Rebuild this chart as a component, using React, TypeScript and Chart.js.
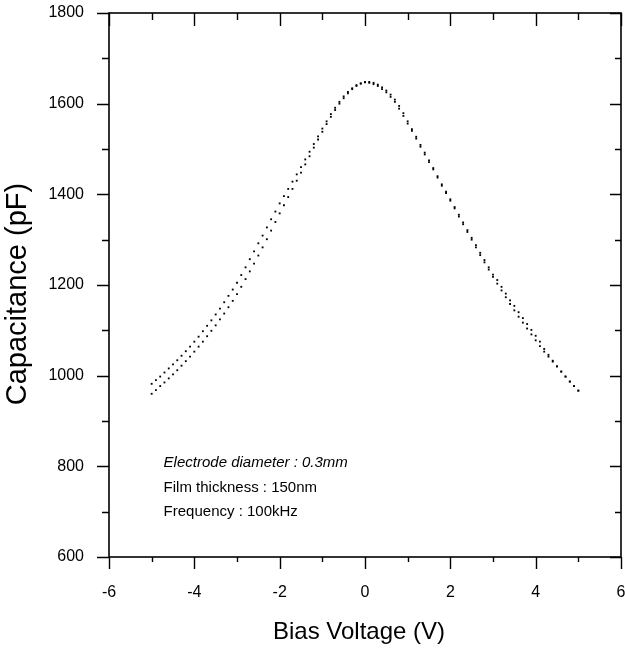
import React, { useEffect, useRef } from "react";
import { Chart, registerables } from "chart.js";

Chart.register(...registerables);

const voltage = [
  -5.0, -4.9, -4.8, -4.7, -4.6, -4.5, -4.4, -4.3, -4.2, -4.1,
  -4.0, -3.9, -3.8, -3.7, -3.6, -3.5, -3.4, -3.3, -3.2, -3.1,
  -3.0, -2.9, -2.8, -2.7, -2.6, -2.5, -2.4, -2.3, -2.2, -2.1,
  -2.0, -1.9, -1.8, -1.7, -1.6, -1.5, -1.4, -1.3, -1.2, -1.1,
  -1.0, -0.9, -0.8, -0.7, -0.6, -0.5, -0.4, -0.3, -0.2, -0.1,
  0.0, 0.1, 0.2, 0.3, 0.4, 0.5, 0.6, 0.7, 0.8, 0.9,
  1.0, 1.1, 1.2, 1.3, 1.4, 1.5, 1.6, 1.7, 1.8, 1.9,
  2.0, 2.1, 2.2, 2.3, 2.4, 2.5, 2.6, 2.7, 2.8, 2.9,
  3.0, 3.1, 3.2, 3.3, 3.4, 3.5, 3.6, 3.7, 3.8, 3.9,
  4.0, 4.1, 4.2, 4.3, 4.4, 4.5, 4.6, 4.7, 4.8, 4.9,
  5.0,
];

const sweepA = [
  982, 990, 998, 1007, 1016, 1025, 1034, 1044, 1054, 1064,
  1075, 1086, 1098, 1110, 1122, 1135, 1148, 1162, 1176, 1190,
  1205, 1222, 1239, 1257, 1274, 1292, 1309, 1327, 1345, 1362,
  1380, 1396, 1412, 1428, 1444, 1460, 1477, 1494, 1511, 1528,
  1545, 1561, 1577, 1591, 1604, 1616, 1626, 1634, 1641, 1645,
  1648, 1646, 1643, 1639, 1632, 1625, 1615, 1604, 1589, 1573,
  1556, 1540, 1523, 1505, 1488, 1471, 1455, 1437, 1419, 1403,
  1386, 1369, 1351, 1334, 1317, 1300, 1283, 1266, 1250, 1234,
  1218, 1203, 1188, 1173, 1158, 1144, 1130, 1117, 1104, 1091,
  1078, 1065, 1053, 1042, 1031, 1020, 1009, 998, 987, 977,
  967,
];

const sweepB = [
  960, 968, 977, 985, 994, 1003, 1012, 1022, 1032, 1042,
  1053, 1064, 1075, 1087, 1099, 1111, 1124, 1137, 1151, 1165,
  1180, 1196, 1213, 1230, 1247, 1265, 1283, 1301, 1320, 1339,
  1358, 1376, 1394, 1412, 1430, 1448, 1466, 1484, 1503, 1521,
  1538, 1555, 1571, 1586, 1600, 1612, 1623, 1632, 1639, 1644,
  1647, 1648, 1646, 1642, 1636, 1629, 1620, 1609, 1595, 1579,
  1561, 1544, 1527, 1509, 1492, 1475, 1458, 1440, 1422, 1406,
  1389, 1372, 1355, 1338, 1321, 1304, 1288, 1271, 1255, 1239,
  1223, 1211, 1196, 1181, 1166, 1154, 1140, 1127, 1114, 1101,
  1088, 1075, 1059, 1046, 1033, 1021, 1009, 998, 987, 977,
  967,
];

const xRange = [-6, 6];
const yRange = [600, 1800];
const xMajorStep = 2;
const yMajorStep = 200;
const xMinorStep = 1;
const yMinorStep = 100;

const xTitle = "Bias Voltage (V)";
const yTitle = "Capacitance (pF)";

const noteLines = [
  "Electrode diameter : 0.3mm",
  "Film thickness : 150nm",
  "Frequency : 100kHz",
];
const noteAnchorX = -4.72;
const noteAnchorY = [807, 752, 699];

const FONT = "'Liberation Sans', Arial, Helvetica, sans-serif";

const framePlugin = {
  id: "frameTicks",
  afterDraw(chart: any) {
    const { ctx, chartArea: a, scales } = chart;
    const xs = scales.x;
    const ys = scales.y;
    ctx.save();
    ctx.strokeStyle = "#000";
    ctx.lineWidth = 1.6;
    ctx.strokeRect(a.left, a.top, a.right - a.left, a.bottom - a.top);
    ctx.lineWidth = 1.4;
    ctx.beginPath();
    for (let v = xRange[0]; v <= xRange[1] + 1e-9; v += xMinorStep) {
      const px = Math.round(xs.getPixelForValue(v)) + 0.5;
      const major = Math.abs(v % xMajorStep) < 1e-9;
      ctx.moveTo(px, a.bottom);
      ctx.lineTo(px, a.bottom + (major ? 12 : 5));
      ctx.moveTo(px, a.top);
      ctx.lineTo(px, a.top + (major ? 13 : 7));
    }
    for (let v = yRange[0]; v <= yRange[1] + 1e-9; v += yMinorStep) {
      const py = Math.round(ys.getPixelForValue(v)) + 0.5;
      const major = Math.abs(v % yMajorStep) < 1e-9;
      ctx.moveTo(a.left, py);
      ctx.lineTo(a.left - (major ? 12 : 7), py);
      ctx.moveTo(a.right, py);
      ctx.lineTo(a.right - (major ? 11 : 6), py);
    }
    ctx.stroke();

    ctx.fillStyle = "#000";
    ctx.textBaseline = "middle";
    ctx.textAlign = "left";
    const nx = xs.getPixelForValue(noteAnchorX);
    noteLines.forEach((line, i) => {
      ctx.font = (i === 0 ? "italic " : "") + "15px " + FONT;
      ctx.fillText(line, nx, ys.getPixelForValue(noteAnchorY[i]));
    });

    // axis titles
    ctx.textAlign = "center";
    ctx.font = "24px " + FONT;
    ctx.fillText(xTitle, (a.left + a.right) / 2 - 6, a.bottom + 75);
    ctx.save();
    ctx.translate(18, (a.top + a.bottom) / 2 + 9);
    ctx.rotate(-Math.PI / 2);
    ctx.font = "29px " + FONT;
    ctx.fillText(yTitle, 0, 0);
    ctx.restore();
    ctx.restore();
  },
};

export default function App() {
  const ref = useRef<HTMLCanvasElement | null>(null);
  useEffect(() => {
    if (!ref.current) return;
    const toPts = (vals: number[]) => voltage.map((v, i) => ({ x: v, y: vals[i] }));
    const chart = new Chart(ref.current, {
      type: "scatter",
      data: {
        datasets: [
          {
            label: "sweep A",
            data: toPts(sweepA),
            pointStyle: "rect",
            pointRadius: 1.3,
            pointBorderWidth: 0,
            pointBackgroundColor: "#000",
            showLine: false,
          },
          {
            label: "sweep B",
            data: toPts(sweepB),
            pointStyle: "rect",
            pointRadius: 1.3,
            pointBorderWidth: 0,
            pointBackgroundColor: "#000",
            showLine: false,
          },
        ],
      },
      options: {
        responsive: false,
        animation: false,
        devicePixelRatio: 1,
        layout: { padding: { left: 0, right: 3, top: 13, bottom: 0 } },
        plugins: {
          legend: { display: false },
          tooltip: { enabled: false },
        },
        scales: {
          x: {
            type: "linear",
            min: xRange[0],
            max: xRange[1],
            grid: { display: false },
            border: { display: false },
            ticks: {
              stepSize: xMajorStep,
              color: "#000",
              padding: 18,
              font: { family: FONT, size: 16 },
              callback: (v: any) => String(v),
            },
            title: { display: false },
            afterFit: (s: any) => {
              s.height = 92;
              s.paddingLeft = 0;
              s.paddingRight = 0;
            },
          },
          y: {
            type: "linear",
            min: yRange[0],
            max: yRange[1],
            grid: { display: false },
            border: { display: false },
            ticks: {
              stepSize: yMajorStep,
              color: "#000",
              padding: 17,
              font: { family: FONT, size: 16 },
              callback: (v: any) => String(v),
            },
            title: { display: false },
            afterFit: (s: any) => {
              s.width = 109;
              s.paddingTop = 0;
              s.paddingBottom = 0;
            },
          },
        },
      },
      plugins: [framePlugin],
    });
    return () => chart.destroy();
  }, []);
  return (
    <div style={{ position: "absolute", left: 0, top: 0, width: 625, height: 649, background: "#fff" }}>
      <canvas ref={ref} width={625} height={649} style={{ display: "block" }} />
    </div>
  );
}
